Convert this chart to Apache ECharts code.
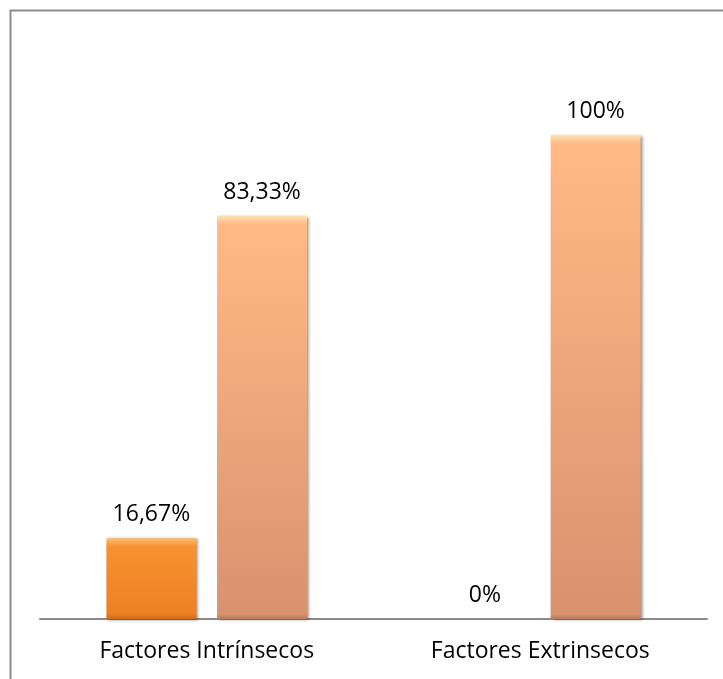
<!DOCTYPE html>
<html>
<head>
<meta charset="utf-8">
<script src="https://cdn.jsdelivr.net/npm/echarts@6/dist/echarts.min.js"></script>
<style>html,body{margin:0;padding:0;background:#fff}#c{width:723px;height:679px}</style>
</head>
<body>
<div id="c"></div>
<script>
var categories = ['Factores Intrínsecos', 'Factores Extrinsecos'];
var seriesA = [16.67, 0];
var seriesB = [83.33, 100];
var labelsA = ['16,67%', '0%'];
var labelsB = ['83,33%', '100%'];

var chart = echarts.init(document.getElementById('c'));
var FONT = 'Open Sans';
var pxPerUnit = 484 / 100;

function bevelColor(v, light, top, bottom, bottomDark) {
  var h = Math.max(v * pxPerUnit, 1);
  var f = Math.min(9 / h, 0.4);
  var fb = Math.min(5 / h, 0.2);
  return new echarts.graphic.LinearGradient(0, 0, 0, 1, [
    {offset: 0, color: light},
    {offset: f, color: top},
    {offset: Math.min(f * 1.3 + 0.01, 0.5), color: top},
    {offset: 1 - fb, color: bottom},
    {offset: 1, color: bottomDark}
  ]);
}

function makeData(vals, labels, c) {
  return vals.map(function (v, i) {
    return {
      value: v,
      itemStyle: {color: bevelColor(v, c[0], c[1], c[2], c[3])},
      label: {formatter: labels[i]}
    };
  });
}

var labelStyle = {show: true, position: 'top', distance: 12, color: '#000', fontFamily: FONT, fontSize: 23};

chart.setOption({
  animation: false,
  backgroundColor: '#fff',
  grid: {left: 40, right: 16, top: 38, bottom: 60, containLabel: false},
  graphic: [{
    type: 'rect', z: -1,
    shape: {x: 10.5, y: 10.5, width: 900, height: 900},
    style: {fill: 'none', stroke: '#8c8c8c', lineWidth: 2}
  }],
  xAxis: {
    type: 'category', data: categories,
    axisLine: {lineStyle: {color: '#8a8a8a', width: 2}},
    axisTick: {show: false},
    axisLabel: {color: '#000', fontFamily: FONT, fontSize: 23, margin: 21}
  },
  yAxis: {
    type: 'value', min: 0, max: 120, interval: 20, show: false,
    splitLine: {show: false}
  },
  series: [{
    type: 'bar', barWidth: 90, barGap: '23%',
    data: makeData(seriesA, labelsA, ['#FDBB6E', '#F7902F', '#EE8024', '#C86A1C']),
    label: labelStyle,
    itemStyle: {shadowColor: 'rgba(0,0,0,0.45)', shadowBlur: 3, shadowOffsetX: 2, shadowOffsetY: 1}
  }, {
    type: 'bar', barWidth: 90,
    data: makeData(seriesB, labelsB, ['#FFE3B4', '#FFB985', '#D9926F', '#B87A60']),
    label: labelStyle,
    itemStyle: {shadowColor: 'rgba(0,0,0,0.45)', shadowBlur: 3, shadowOffsetX: 2, shadowOffsetY: 1}
  }]
});
</script>
</body>
</html>
